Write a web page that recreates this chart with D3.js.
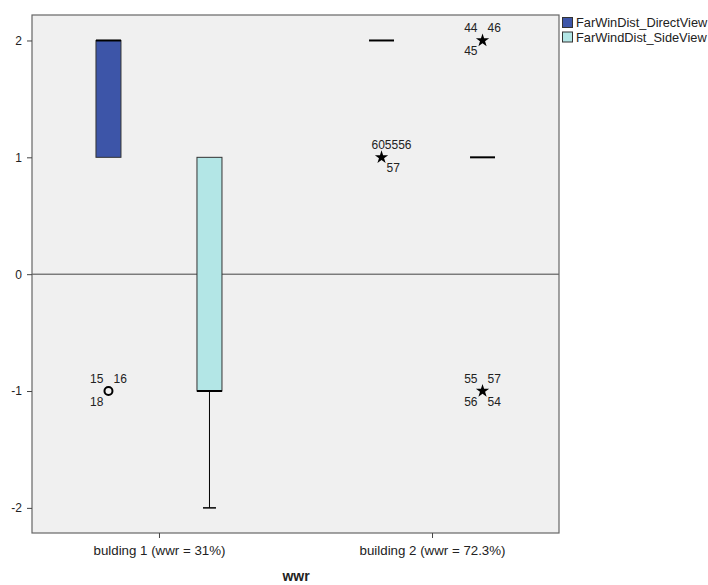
<!DOCTYPE html>
<html>
<head>
<meta charset="utf-8">
<script src="https://cdn.jsdelivr.net/npm/d3@7/dist/d3.min.js"></script>
<style>
  html, body { margin: 0; padding: 0; background: #ffffff; }
  svg text { font-family: "Liberation Sans", Arial, sans-serif; }
</style>
</head>
<body>
<svg id="chart" width="708" height="585"></svg>
<script>
// ---------------- data ----------------
const categories = ["bulding 1 (wwr = 31%)", "building 2 (wwr = 72.3%)"];
const seriesNames = ["FarWinDist_DirectView", "FarWindDist_SideView"];
const seriesColors = ["#3d55a8", "#b3e6e6"];
const yTicks = [-2, -1, 0, 1, 2];
const xTitle = "wwr";

// box statistics per series, one entry per category
const directQ1 = [1, 2];
const directMedian = [2, 2];
const directQ3 = [2, 2];
const directLow = [1, 2];
const directHigh = [2, 2];

const sideQ1 = [-1, 1];
const sideMedian = [-1, 1];
const sideQ3 = [1, 1];
const sideLow = [-2, 1];
const sideHigh = [1, 1];

// outliers: category index, series index, value, marker, case labels [text, slot]
const outliers = [
  { cat: 0, series: 0, value: -1, marker: "circle", labels: [["15", "tl"], ["16", "tr"], ["18", "bl"]] },
  { cat: 1, series: 0, value: 1, marker: "star", labels: [["605556", "tc"], ["57", "br"]] },
  { cat: 1, series: 1, value: 2, marker: "star", labels: [["44", "tl"], ["46", "tr"], ["45", "bl"]] },
  { cat: 1, series: 1, value: -1, marker: "star", labels: [["55", "tl"], ["57", "tr"], ["56", "bl"], ["54", "br"]] }
];

// ---------------- layout ----------------
const svg = d3.select("#chart");
const plot = { left: 32, right: 559, top: 15, bottom: 533 };

const x = d3.scalePoint().domain(categories).range([plot.left, plot.right]).padding(0.465);
const seriesOffset = d3.scalePoint().domain(seriesNames).range([-50.5, 50.5]);
const y = d3.scaleLinear().domain([-2.215, 2.218]).range([plot.bottom, plot.top]);
const boxW = 25;

// background
svg.append("rect")
  .attr("x", plot.left).attr("y", plot.top)
  .attr("width", plot.right - plot.left).attr("height", plot.bottom - plot.top)
  .attr("fill", "#f0f0f0");

// zero reference line
svg.append("line")
  .attr("x1", plot.left).attr("x2", plot.right)
  .attr("y1", y(0)).attr("y2", y(0))
  .attr("stroke", "#444").attr("stroke-width", 1);

// build box records
const stats = [
  { q1: directQ1, med: directMedian, q3: directQ3, lo: directLow, hi: directHigh },
  { q1: sideQ1, med: sideMedian, q3: sideQ3, lo: sideLow, hi: sideHigh }
];
const boxes = [];
categories.forEach((c, ci) => {
  seriesNames.forEach((s, si) => {
    const st = stats[si];
    boxes.push({ cat: c, ser: s, si, q1: st.q1[ci], med: st.med[ci], q3: st.q3[ci], lo: st.lo[ci], hi: st.hi[ci] });
  });
});

const g = svg.append("g");
boxes.forEach(b => {
  const cx = x(b.cat) + seriesOffset(b.ser);
  if (b.lo < b.q1) {
    g.append("line").attr("x1", cx).attr("x2", cx).attr("y1", y(b.q1)).attr("y2", y(b.lo))
      .attr("stroke", "#000").attr("stroke-width", 1);
    g.append("line").attr("x1", cx - 6.5).attr("x2", cx + 6.5).attr("y1", y(b.lo)).attr("y2", y(b.lo))
      .attr("stroke", "#000").attr("stroke-width", 1.5);
  }
  if (b.hi > b.q3) {
    g.append("line").attr("x1", cx).attr("x2", cx).attr("y1", y(b.q3)).attr("y2", y(b.hi))
      .attr("stroke", "#000").attr("stroke-width", 1);
    g.append("line").attr("x1", cx - 6.5).attr("x2", cx + 6.5).attr("y1", y(b.hi)).attr("y2", y(b.hi))
      .attr("stroke", "#000").attr("stroke-width", 1.5);
  }
  if (b.q3 > b.q1) {
    g.append("rect")
      .attr("x", cx - boxW / 2).attr("y", y(b.q3))
      .attr("width", boxW).attr("height", y(b.q1) - y(b.q3))
      .attr("fill", seriesColors[b.si])
      .attr("stroke", "#333").attr("stroke-width", 1);
  }
  g.append("line")
    .attr("x1", cx - boxW / 2).attr("x2", cx + boxW / 2)
    .attr("y1", y(b.med)).attr("y2", y(b.med))
    .attr("stroke", "#000").attr("stroke-width", 2);
});

// outliers
const slotPos = {
  tl: { dx: -5, dy: -8, anchor: "end" },
  tr: { dx: 5, dy: -8, anchor: "start" },
  tc: { dx: 10, dy: -8, anchor: "middle" },
  bl: { dx: -5, dy: 15, anchor: "end" },
  br: { dx: 5, dy: 15, anchor: "start" }
};
const starPath = d3.symbol().type(d3.symbolStar).size(55)();
outliers.forEach(o => {
  const cx = x(categories[o.cat]) + seriesOffset(seriesNames[o.series]);
  const cy = y(o.value);
  if (o.marker === "circle") {
    g.append("circle").attr("cx", cx).attr("cy", cy).attr("r", 4)
      .attr("fill", "none").attr("stroke", "#000").attr("stroke-width", 2);
  } else {
    g.append("path").attr("d", starPath).attr("transform", `translate(${cx},${cy})`)
      .attr("fill", "#000");
  }
  o.labels.forEach(([t, slot]) => {
    const p = slotPos[slot];
    g.append("text").attr("x", cx + p.dx).attr("y", cy + p.dy)
      .attr("text-anchor", p.anchor).attr("font-size", "12px").attr("fill", "#222")
      .text(t);
  });
});

// frame
svg.append("rect")
  .attr("x", plot.left).attr("y", plot.top)
  .attr("width", plot.right - plot.left).attr("height", plot.bottom - plot.top)
  .attr("fill", "none").attr("stroke", "#666").attr("stroke-width", 1.2);

// axes
const yAxis = d3.axisLeft(y).tickValues(yTicks).tickSize(5).tickFormat(d => String(d));
const ya = svg.append("g").attr("transform", `translate(${plot.left},0)`).call(yAxis);
ya.select(".domain").remove();
ya.selectAll("text").attr("font-size", "12px").attr("fill", "#222").attr("dx", "-2");
ya.selectAll("line").attr("stroke", "#444");

const xAxis = d3.axisBottom(x).tickSize(5).tickPadding(8);
const xa = svg.append("g").attr("transform", `translate(0,${plot.bottom})`).call(xAxis);
xa.select(".domain").remove();
xa.selectAll("text").attr("font-size", "13.3px").attr("fill", "#222");
xa.selectAll("line").attr("stroke", "#444");

svg.append("text")
  .attr("x", 296).attr("y", 581)
  .attr("text-anchor", "middle").attr("font-size", "14px").attr("font-weight", "bold").attr("fill", "#222")
  .text(xTitle);

// legend
const lg = svg.append("g").attr("transform", "translate(562,17)");
seriesNames.forEach((s, i) => {
  const row = lg.append("g").attr("transform", `translate(0,${i * 14.5})`);
  row.append("rect").attr("x", 0.5).attr("y", 0.5).attr("width", 10).attr("height", 10)
    .attr("fill", seriesColors[i]).attr("stroke", "#333").attr("stroke-width", 1);
  row.append("text").attr("x", 14).attr("y", 10).attr("font-size", "12.8px").attr("fill", "#222").text(s);
});
</script>
</body>
</html>
